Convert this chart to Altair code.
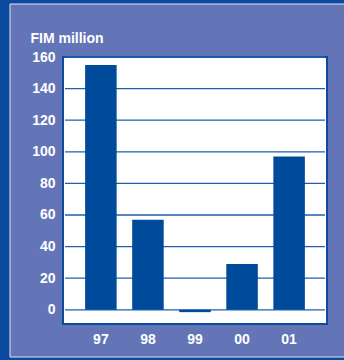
import altair as alt
import pandas as pd

years = ["97", "98", "99", "00", "01"]
values = [155, 57, -1.5, 29, 97]
grid_ticks = [0, 20, 40, 60, 80, 100, 120, 140, 160]

OUTER = "#0b4a9c"
PANEL = "#6375b7"
BAR = "#004a9b"
GRID = "#1f5fae"

W, H = 264, 267

df = pd.DataFrame({"year": years, "value": values})
gdf = pd.DataFrame({"tick": grid_ticks})

yscale = alt.Scale(domain=[-9, 160], nice=False, zero=False)

yaxis = alt.Axis(
    values=grid_ticks, title="FIM million", titleAngle=0, titleAlign="left",
    titleBaseline="alphabetic", titleX=-33, titleY=-15, titleColor="white",
    titleFont="Liberation Sans", titleFontWeight="bold", titleFontSize=14,
    labelColor="white", labelFont="Liberation Sans", labelFontWeight="bold",
    labelFontSize=14, labelPadding=8, ticks=False, domain=False, grid=False,
    zindex=2,
)

panel = alt.Chart(pd.DataFrame({"a": [0]})).mark_rect(
    fill=PANEL, stroke="#dfe5f3", strokeWidth=1, clip=False
).encode(
    x=alt.value(-53), x2=alt.value(300), y=alt.value(-53), y2=alt.value(300)
)

plotbg = alt.Chart(pd.DataFrame({"a": [0]})).mark_rect(
    fill="white", stroke=OUTER, strokeWidth=2
).encode(
    x=alt.value(0), x2=alt.value(W), y=alt.value(0), y2=alt.value(H)
)

grid = alt.Chart(gdf).mark_rule(color=GRID, strokeWidth=1.3).encode(
    y=alt.Y("tick:Q", scale=yscale, axis=yaxis),
    x=alt.value(2), x2=alt.value(W - 2),
)

bars = alt.Chart(df).mark_bar(color=BAR).encode(
    x=alt.X(
        "year:N",
        sort=years,
        scale=alt.Scale(paddingInner=0.33, paddingOuter=0.47),
        axis=alt.Axis(
            title=None, labelAngle=0, labelColor="white", labelFont="Liberation Sans",
            labelFontWeight="bold", labelFontSize=14, labelPadding=8, labelBaseline="top",
            ticks=False, domain=False, grid=False, zindex=2,
        ),
    ),
    y=alt.Y("value:Q", scale=yscale, axis=yaxis),
)

chart = alt.layer(panel, plotbg, grid, bars).properties(
    width=W, height=H,
    background=OUTER,
    padding={"left": 63, "top": 57, "right": 17, "bottom": 36},
    autosize=alt.AutoSizeParams(type="none"),
).configure_view(stroke=None)

chart.save("out.html", embed_options={"renderer": "svg", "actions": False})
